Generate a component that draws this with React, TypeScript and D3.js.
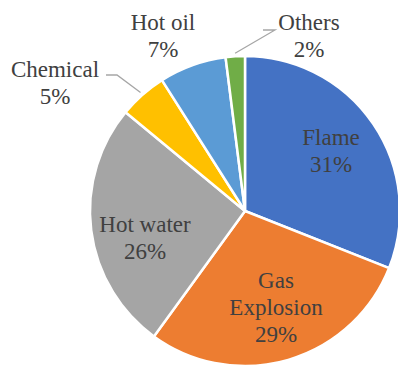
import React from "react";
import * as d3 from "d3";

const categories = ["Flame", "Gas Explosion", "Hot water", "Chemical", "Hot oil", "Others"];
const values = [31, 29, 26, 5, 7, 2];
const colors = ["#4472C4", "#ED7D31", "#A5A5A5", "#FFC000", "#5B9BD5", "#70AD47"];
const labelLines = [["Flame"], ["Gas", "Explosion"], ["Hot water"], ["Chemical"], ["Hot oil"], ["Others"]];

// label layout (relative to pie centre): x, first baseline y
const labelLayout = [
  { x: 86, y: -66, leader: null },
  { x: 31, y: 77, leader: null },
  { x: -100, y: 21, leader: null },
  { x: -190, y: -134, leader: [[-139, -136], [-128, -136]] },
  { x: -82, y: -181, leader: null },
  { x: 64, y: -181, leader: [[18, -181], [30, -181]] },
];

const W = 398;
const H = 367;
const cx = 245;
const cy = 211;
const R = 155;
const lineH = 27;

export default function App() {
  const pie = d3.pie<number>().sort(null).value((d) => d);
  const arcs = pie(values);
  const arc = d3.arc<d3.PieArcDatum<number>>().innerRadius(0).outerRadius(R);
  const outer = d3.arc<d3.PieArcDatum<number>>().innerRadius(R + 3).outerRadius(R + 3);

  const labels: { x: number; y: number; s: string }[] = [];
  arcs.forEach((a, i) => {
    const L = labelLayout[i];
    const lines = [...labelLines[i], `${values[i]}%`];
    lines.forEach((s, j) => labels.push({ x: cx + L.x, y: cy + L.y + j * lineH, s }));
  });

  return (
    <svg width={W} height={H} style={{ position: "absolute", left: 0, top: 0 }}>
      <g transform={`translate(${cx},${cy})`}>
        {arcs.map((a, i) => (
          <path key={i} d={arc(a) || ""} fill={colors[i]} stroke="#fff" strokeWidth={2.5} strokeLinejoin="round" />
        ))}
        {arcs.map((a, i) => {
          const L = labelLayout[i];
          if (!L.leader) return null;
          const pts = [...L.leader, outer.centroid(a)] as [number, number][];
          return (
            <polyline
              key={"l" + i}
              points={pts.map((p) => p.join(",")).join(" ")}
              fill="none"
              stroke="#A6A6A6"
              strokeWidth={1.3}
            />
          );
        })}
      </g>
      {labels.map((l, k) => (
        <text key={"t" + k} x={l.x} y={l.y} textAnchor="middle" fill="#404040" style={{ fontFamily: "Times New Roman", fontSize: "23px" }}>
          {l.s}
        </text>
      ))}
    </svg>
  );
}
